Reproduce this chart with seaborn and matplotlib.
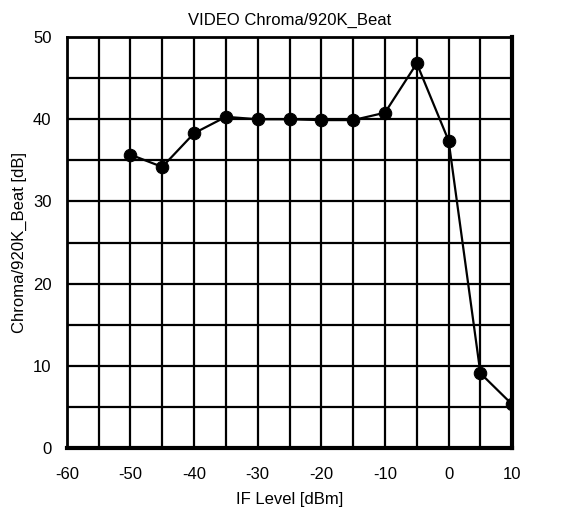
import numpy as np
import pandas as pd
import seaborn as sns
import matplotlib.pyplot as plt

# Datos
if_level = [-50, -45, -40, -35, -30, -25, -20, -15, -10, -5, 0, 5, 10]
beat_db = [35.7, 34.2, 38.3, 40.3, 40.0, 40.0, 39.9, 39.9, 40.8, 46.8, 37.4, 9.1, 5.3]

x_ticks = [-60, -50, -40, -30, -20, -10, 0, 10]
y_ticks = [0, 10, 20, 30, 40, 50]

df = pd.DataFrame({"IF Level": if_level, "Beat": beat_db})

sns.set_theme(style="white")
plt.rcParams['font.family'] = ['Liberation Sans', 'DejaVu Sans']
plt.rcParams['text.color'] = 'black'
plt.rcParams['axes.labelcolor'] = 'black'
plt.rcParams['xtick.color'] = 'black'
plt.rcParams['ytick.color'] = 'black'

fig = plt.figure(figsize=(5.66, 5.15), dpi=100)
ax = fig.add_axes([0.118, 0.130, 0.787, 0.798])

# Cuadrícula cada 5 unidades
for gx in np.arange(-55, 10, 5):
    ax.axvline(gx, color='black', linewidth=1.6, zorder=1)
for gy in np.arange(5, 50, 5):
    ax.axhline(gy, color='black', linewidth=1.6, zorder=1)

sns.lineplot(data=df, x="IF Level", y="Beat", ax=ax, color='black',
             linewidth=1.6, marker='o', markersize=9, markeredgecolor='black',
             zorder=3)

ax.set_xlim(-60, 10)
ax.set_ylim(0, 50)
ax.set_xticks(x_ticks)
ax.set_yticks(y_ticks)
ax.set_xticklabels([str(t) for t in x_ticks], fontsize=12)
ax.set_yticklabels([str(t) for t in y_ticks], fontsize=12)
ax.tick_params(axis='x', length=0, pad=14)
ax.tick_params(axis='y', length=0, pad=11)

for side, lw in [('left', 2.0), ('top', 2.0), ('bottom', 3.0), ('right', 3.0)]:
    ax.spines[side].set_visible(True)
    ax.spines[side].set_color('black')
    ax.spines[side].set_linewidth(lw)

ax.set_title('VIDEO Chroma/920K_Beat', fontsize=12, pad=9)
ax.set_xlabel('IF Level [dBm]', fontsize=12, labelpad=7)
ax.set_ylabel('Chroma/920K_Beat [dB]', fontsize=12, labelpad=4)

fig.savefig('out.png', dpi=100)
